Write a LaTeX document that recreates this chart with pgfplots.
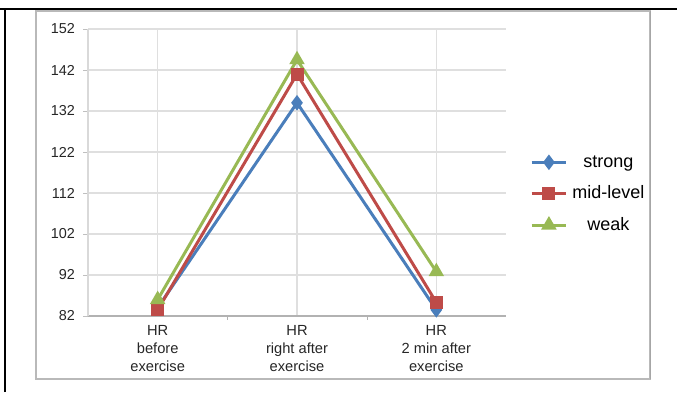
\documentclass[border=0pt]{standalone}
\usepackage{pgfplots}
\pgfplotsset{compat=1.18}
\usepackage{fontspec}
\setmainfont{Liberation Sans}
\definecolor{cblue}{HTML}{4A7EBB}
\definecolor{cred}{HTML}{BE4B48}
\definecolor{cgreen}{HTML}{98B954}
\begin{document}
\begin{tikzpicture}[x=1pt,y=1pt]
\path[use as bounding box] (0,0) rectangle (507.75,294);
\draw[line width=1.4pt] (0,287.25) -- (507.75,287.25);
\draw[line width=2pt] (3.75,0) -- (3.75,288);
\draw[gray!55, line width=0.8pt] (27,9.75) rectangle (487.5,285.75);
\draw[gray!70, line width=1.2pt] (488,9.5) -- (488,285.5);
\begin{axis}[
  at={(66pt,57pt)}, anchor=south west,
  scale only axis, width=313.5pt, height=215.25pt,
  xmin=-0.5, xmax=2.5, ymin=82, ymax=152,
  ytick={82,92,...,152},
  xtick={0,1,2},
  xticklabels={{HR\\before\\exercise},{HR\\right after\\exercise},{HR\\2 min after\\exercise}},
  minor xtick={0.5,1.5},
  every major x tick/.append style={draw=none},
  every minor x tick/.append style={draw=gray!60},
  minor tick length=3pt,
  major tick length=3.75pt,
  tick align=outside,
  ytick style={draw=gray!50},
  grid=major,
  major grid style={gray!25, line width=0.8pt},
  axis lines*=left,
  x axis line style={gray!60, line width=0.8pt},
  y axis line style={gray!30, line width=0.8pt},
  /pgf/number format/assume math mode=true,
  yticklabel style={font=\fontsize{10.8}{12}\selectfont, text=black!85, xshift=-2.5pt},
  xticklabel style={align=center, font=\fontsize{11}{13.5}\selectfont, text=black!85},
  clip=false,
  every axis plot/.append style={line width=2.25pt},
  legend image code/.code={\draw[mark repeat=2,mark phase=2] plot coordinates {(0pt,0pt) (13pt,0pt) (26pt,0pt)};},
  legend style={at={(axis description cs:1.057,0.425)}, anchor=west, draw=none, fill=none,
    font=\fontsize{13.5}{16}\selectfont, row sep=8.5pt, inner sep=0pt},
]
\addplot[cblue, mark=diamond*, mark size=4pt, mark options={solid}] coordinates {(0,84) (1,134) (2,83.5)};
\addlegendentry{\makebox[57pt]{strong}}
\addplot[cred, mark=square*, mark size=3.75pt] coordinates {(0,83.5) (1,141) (2,85.3)};
\addlegendentry{\makebox[57pt]{mid-level}}
\addplot[cgreen, mark=triangle*, mark size=4.5pt] coordinates {(0,86) (1,144.5) (2,92.8)};
\addlegendentry{\makebox[57pt]{weak}}
\end{axis}
\end{tikzpicture}
\end{document}
